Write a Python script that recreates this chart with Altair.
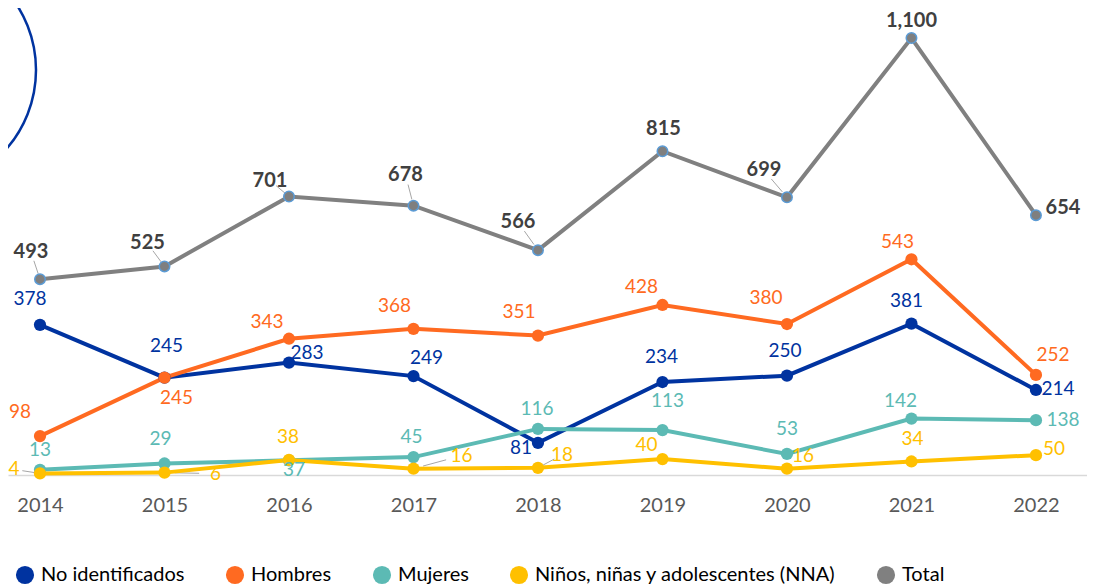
import altair as alt
import pandas as pd

years = [2014, 2015, 2016, 2017, 2018, 2019, 2020, 2021, 2022]
series_names = ["No identificados", "Hombres", "Mujeres",
                "Niños, niñas y adolescentes (NNA)", "Total"]
no_identificados = [378, 245, 283, 249, 81, 234, 250, 381, 214]
hombres = [98, 245, 343, 368, 351, 428, 380, 543, 252]
mujeres = [13, 29, 37, 45, 116, 113, 53, 142, 138]
nna = [4, 6, 38, 16, 18, 40, 16, 34, 50]
total = [493, 525, 701, 678, 566, 815, 699, 1100, 654]
colors = ["#0033A0", "#FF6A21", "#5CBAB4", "#FFC000", "#808080"]

# label offsets (pixels) for each series / year
label_dx = [
    [-10, 2, 18, 13, -17, -1, -2, -5, 22],
    [-20, 12, -22, -19, -19, -21, -21, -14, 17],
    [0, -4, 5, -2, -1, 5, 0, -11, 27],
    [-26, 51, -1, 48, 24, -16, 16, 1, 18],
    [-9, -17, -19, -8, -20, 1, -23, 0, 27],
]
label_dy = [
    [-26, -32, -10, -18, 5, -25, -25, -23, -1],
    [-24, 20, -17, -23, -24, -18, -26, -17, -20],
    [-20, -24, 10, -20, -20, -29, -25, -18, 0],
    [-4, 1, -23, -13, -13, -14, -13, -22, -6],
    [-27, -23, -16, -31, -28, -22, -27, -17, -7],
]
# which labels have a small leader line
leader = [
    [0, 0, 0, 0, 0, 0, 0, 0, 0],
    [0, 0, 0, 0, 0, 0, 0, 0, 0],
    [0, 0, 0, 0, 0, 0, 0, 0, 0],
    [1, 1, 0, 1, 1, 0, 0, 0, 0],
    [1, 1, 1, 1, 1, 0, 1, 0, 0],
]

values = [no_identificados, hombres, mujeres, nna, total]
rows = []
for si, name in enumerate(series_names):
    for yi, yr in enumerate(years):
        rows.append({"serie": name, "year": yr, "value": values[si][yi],
                     "dx": label_dx[si][yi], "dy": label_dy[si][yi],
                     "leader": leader[si][yi]})
df = pd.DataFrame(rows)

FONT = "Lato"
W, H = 1079, 437
XD = [2013.743, 2022.41]
YD = [0, 1100]
px_per_year = W / (XD[1] - XD[0])
px_per_unit = H / (YD[1] - YD[0])

xscale = alt.Scale(domain=XD, nice=False, zero=False)
yscale = alt.Scale(domain=YD, nice=False)
cscale = alt.Scale(domain=series_names, range=colors)

legend = alt.Legend(orient="none", legendX=7, legendY=527,
                    direction="horizontal", columns=5,
                    title=None, symbolType="circle",
                    symbolSize=330, symbolStrokeWidth=0,
                    symbolOpacity=1, labelLimit=0,
                    labelFont=FONT, labelFontSize=20,
                    labelColor="#000000", columnPadding=40,
                    labelOffset=6, padding=0)

x_axis = alt.Axis(values=years, format="d", grid=False, ticks=False,
                  tickSize=0, domainColor="#d9d9d9", domainWidth=1.5,
                  labelFontSize=20, labelColor="#595959", labelFont=FONT,
                  labelPadding=20, title=None)
x_enc = alt.X("year:Q", scale=xscale, axis=x_axis)
y_enc = alt.Y("value:Q", scale=yscale, axis=None)
color_enc = alt.Color("serie:N", scale=cscale, legend=legend)

base = alt.Chart(df)

lines = base.mark_line(strokeWidth=4).encode(
    x=x_enc, y=y_enc, color=color_enc, detail="serie:N",
    order=alt.Order("year:Q"),
)

pts = base.transform_filter(alt.datum.serie != "Total").mark_circle(
    size=150, opacity=1).encode(x=x_enc, y=y_enc, color=color_enc)

total_pts = base.transform_filter(alt.datum.serie == "Total").mark_point(
    filled=True, size=110, opacity=1, shape="circle", fill="#7f7f7f",
    stroke="#5B9BD5", strokeWidth=1.5).encode(x=x_enc, y=y_enc)

lab_base = base.transform_calculate(
    lx=f"datum.year + datum.dx / {px_per_year}",
    ly=f"datum.value - datum.dy / {px_per_unit}",
    l1x=f"datum.year + 0.2 * datum.dx / {px_per_year}",
    l1y=f"datum.value - 0.2 * datum.dy / {px_per_unit}",
    l2x=f"datum.year + 0.68 * datum.dx / {px_per_year}",
    l2y=f"datum.value - 0.68 * datum.dy / {px_per_unit}",
)
lx_enc = alt.X("lx:Q", scale=xscale, axis=x_axis)
ly_enc = alt.Y("ly:Q", scale=yscale, axis=None)

leaders = lab_base.transform_filter(alt.datum.leader == 1).mark_rule(
    color="#a6a6a6", strokeWidth=1).encode(
    x=alt.X("l1x:Q", scale=xscale, axis=x_axis),
    x2="l2x:Q",
    y=alt.Y("l1y:Q", scale=yscale, axis=None),
    y2="l2y:Q",
)

labels = lab_base.transform_filter(alt.datum.serie != "Total").mark_text(
    font=FONT, fontSize=19, align="center", baseline="middle").encode(
    x=lx_enc, y=ly_enc,
    text=alt.Text("value:Q", format=","),
    color=color_enc,
)

total_labels = lab_base.transform_filter(alt.datum.serie == "Total").mark_text(
    font=FONT, fontSize=20, fontWeight="bold", align="center", baseline="middle",
    color="#404040").encode(
    x=lx_enc, y=ly_enc,
    text=alt.Text("value:Q", format=","),
)

deco = alt.Chart(pd.DataFrame({"k": [0]})).mark_point(
    shape="circle", filled=False, size=57600, stroke="#0033A0",
    strokeWidth=2.5, opacity=1).encode(x=alt.value(-92), y=alt.value(32))

chart = alt.layer(deco, leaders, lines, pts, total_pts, labels, total_labels).properties(
    width=W, height=H,
    autosize=alt.AutoSizeParams(type="none"),
    padding={"left": 0, "top": 30, "right": 0, "bottom": 110},
    background="#ffffff",
).configure_view(stroke=None)

chart.save("out.html", embed_options={"renderer": "svg", "actions": False})
